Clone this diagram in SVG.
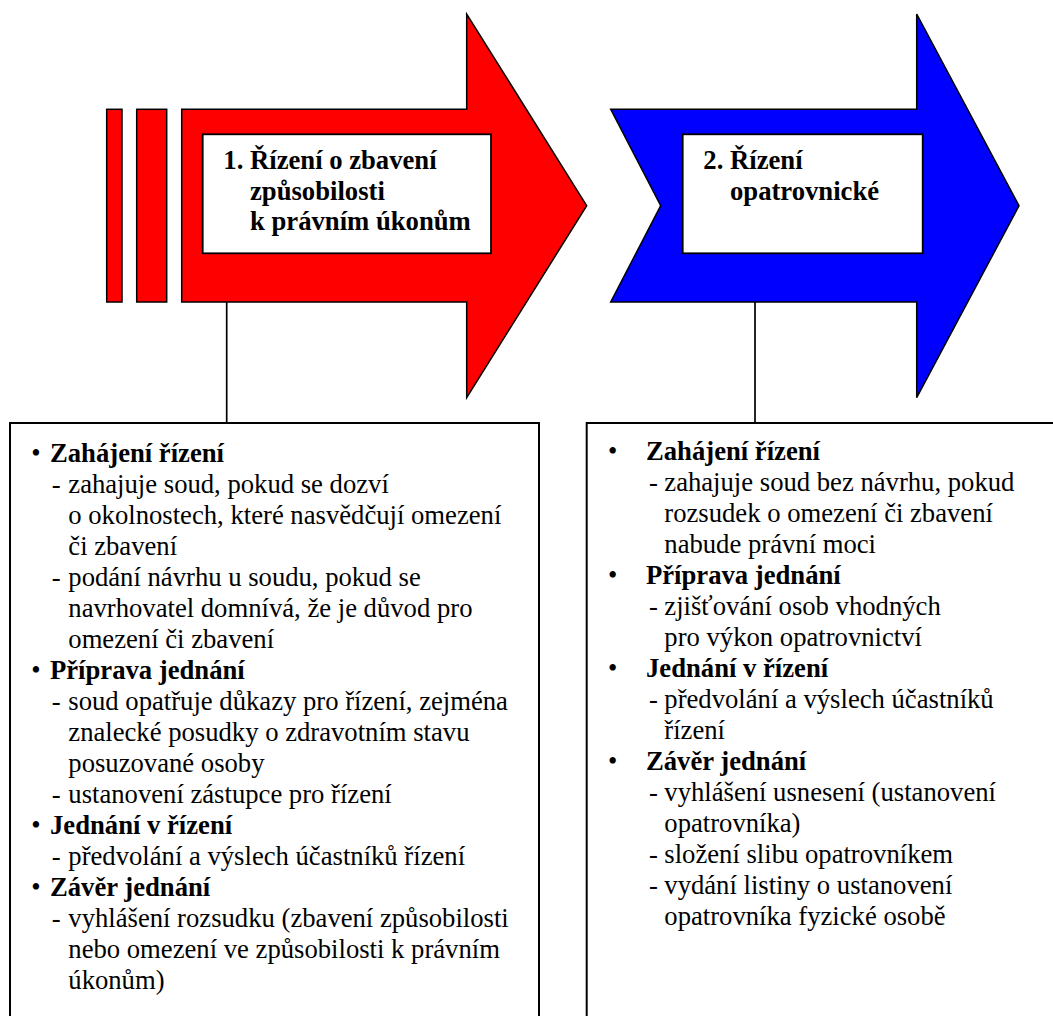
<svg xmlns="http://www.w3.org/2000/svg" width="1053" height="1016" viewBox="0 0 1053 1016">
<style>
.red{fill:#FF0000;stroke:#000;stroke-width:1.5;stroke-linejoin:miter}
.blue{fill:#0000FF;stroke:#000;stroke-width:1.5;stroke-linejoin:miter}
.wbox{fill:#fff;stroke:#000;stroke-width:1.8}
.panel{fill:#fff;stroke:#000;stroke-width:2}
.conn{stroke:#000;stroke-width:1.7;fill:none}
.b{font-weight:bold}
</style>
<rect width="1053" height="1016" fill="#fff"/>
<g id="connectors">
<line class="conn" x1="226.7" y1="302" x2="226.7" y2="423"/>
<line class="conn" x1="755" y1="302" x2="755" y2="423"/>
</g>
<g font-family="Liberation Serif" font-size="26.67" fill="#000">
<g id="stage1">
<rect class="red" x="106.7" y="109.3" width="15.3" height="192.7"/>
<rect class="red" x="136.7" y="109.3" width="30" height="192.7"/>
<polygon class="red" points="181.7,109.3 466.7,109.3 466.7,14 586.7,205.7 466.7,397.7 466.7,302 181.7,302"/>
<rect class="wbox" x="202.7" y="134.3" width="288.3" height="119"/>
<text class="b" x="223.3" y="169">1.</text>
<text class="b" x="250" y="169">Řízení o zbavení</text>
<text class="b" x="250" y="199.5">způsobilosti</text>
<text class="b" x="250" y="230">k právním úkonům</text>
</g>
<g id="stage2">
<polygon class="blue" points="610.7,109.3 916.7,109.3 916.7,14 1019,205.7 916.7,397.7 916.7,302 610.7,302 660.7,205.7"/>
<rect class="wbox" x="682.7" y="134.3" width="240" height="119"/>
<text class="b" x="703.3" y="169">2.</text>
<text class="b" x="730" y="169">Řízení</text>
<text class="b" x="730" y="199.5">opatrovnické</text>
</g>
<g id="box1">
<rect class="panel" x="10" y="423" width="529" height="700"/>
<text x="31.3" y="462">•</text><text class="b" x="50" y="462">Zahájení řízení</text>
<text x="51.7" y="493">-</text><text x="68.3" y="493">zahajuje soud, pokud se dozví</text>
<text x="68.3" y="524">o okolnostech, které nasvědčují omezení</text>
<text x="68.3" y="555">či zbavení</text>
<text x="51.7" y="586">-</text><text x="68.3" y="586">podání návrhu u soudu, pokud se</text>
<text x="68.3" y="617">navrhovatel domnívá, že je důvod pro</text>
<text x="68.3" y="648">omezení či zbavení</text>
<text x="31.3" y="679">•</text><text class="b" x="50" y="679">Příprava jednání</text>
<text x="51.7" y="710">-</text><text x="68.3" y="710">soud opatřuje důkazy pro řízení, zejména</text>
<text x="68.3" y="741">znalecké posudky o zdravotním stavu</text>
<text x="68.3" y="772">posuzované osoby</text>
<text x="51.7" y="803">-</text><text x="68.3" y="803">ustanovení zástupce pro řízení</text>
<text x="31.3" y="834">•</text><text class="b" x="50" y="834">Jednání v řízení</text>
<text x="51.7" y="865">-</text><text x="68.3" y="865">předvolání a výslech účastníků řízení</text>
<text x="31.3" y="896">•</text><text class="b" x="50" y="896">Závěr jednání</text>
<text x="51.7" y="927">-</text><text x="68.3" y="927">vyhlášení rozsudku (zbavení způsobilosti</text>
<text x="68.3" y="958">nebo omezení ve způsobilosti k právním</text>
<text x="68.3" y="989">úkonům)</text>
</g>
<g id="box2">
<rect class="panel" x="586.7" y="423" width="500" height="700"/>
<text x="608" y="460">•</text><text class="b" x="646" y="460">Zahájení řízení</text>
<text x="649" y="491">-</text><text x="664.3" y="491">zahajuje soud bez návrhu, pokud</text>
<text x="664.3" y="522">rozsudek o omezení či zbavení</text>
<text x="664.3" y="553">nabude právní moci</text>
<text x="608" y="584">•</text><text class="b" x="646" y="584">Příprava jednání</text>
<text x="649" y="615">-</text><text x="664.3" y="615">zjišťování osob vhodných</text>
<text x="664.3" y="646">pro výkon opatrovnictví</text>
<text x="608" y="677">•</text><text class="b" x="646" y="677">Jednání v řízení</text>
<text x="649" y="708">-</text><text x="664.3" y="708">předvolání a výslech účastníků</text>
<text x="664.3" y="739">řízení</text>
<text x="608" y="770">•</text><text class="b" x="646" y="770">Závěr jednání</text>
<text x="649" y="801">-</text><text x="664.3" y="801">vyhlášení usnesení (ustanovení</text>
<text x="664.3" y="832">opatrovníka)</text>
<text x="649" y="863">-</text><text x="664.3" y="863">složení slibu opatrovníkem</text>
<text x="649" y="894">-</text><text x="664.3" y="894">vydání listiny o ustanovení</text>
<text x="664.3" y="925">opatrovníka fyzické osobě</text>
</g>
</g>
</svg>
